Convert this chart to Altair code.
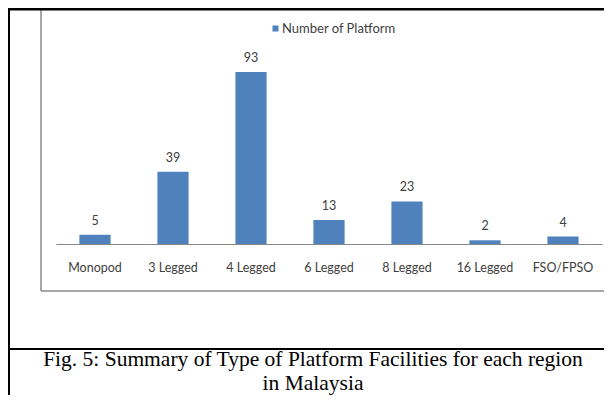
import altair as alt
import pandas as pd

categories = ["Monopod", "3 Legged", "4 Legged", "6 Legged", "8 Legged", "16 Legged", "FSO/FPSO"]
counts = [5, 39, 93, 13, 23, 2, 4]
series_name = "Number of Platform"
caption = "Fig. 5: Summary of Type of Platform Facilities for each region\nin Malaysia"

df = pd.DataFrame({"type": categories, "count": counts, "series": series_name})
dec = pd.DataFrame({"d": [0]})

BAR = "#4F81BD"
TXT = "#404040"
FONT = "Lato"

x_enc = alt.X(
    "type:N",
    sort=categories,
    scale=alt.Scale(paddingInner=0.6, paddingOuter=0.3),
    axis=alt.Axis(
        title=None, labelAngle=0, ticks=False, tickSize=0,
        domainColor="#868686", domainWidth=1,
        labelFont=FONT, labelFontSize=12.5, labelColor=TXT,
        labelPadding=23, labelBaseline="middle",
    ),
)
y_enc = alt.Y("count:Q", scale=alt.Scale(domain=[0, 100]), axis=None)

# frame decorations
gray_left = alt.Chart(dec).mark_rule(color="#8a8a8a", strokeWidth=1.5).encode(
    x=alt.value(-15), y=alt.value(-49), y2=alt.value(232)
)
gray_bottom = alt.Chart(dec).mark_rule(color="#8a8a8a", strokeWidth=1.5).encode(
    x=alt.value(-15), x2=alt.value(548), y=alt.value(232)
)
top_a = alt.Chart(dec).mark_rect(color="black").encode(
    x=alt.value(-47), x2=alt.value(250), y=alt.value(-51), y2=alt.value(-48.5)
)
top_b = alt.Chart(dec).mark_rect(color="black").encode(
    x=alt.value(250), x2=alt.value(548), y=alt.value(-51), y2=alt.value(-48.5)
)
left_line = alt.Chart(dec).mark_rule(color="black", strokeWidth=2).encode(
    x=alt.value(-47), y=alt.value(-51), y2=alt.value(345)
)
mid_line = alt.Chart(dec).mark_rule(color="black", strokeWidth=2).encode(
    x=alt.value(-47), x2=alt.value(560), y=alt.value(290)
)

bars = alt.Chart(df).mark_bar().encode(
    x=x_enc,
    y=y_enc,
    color=alt.Color(
        "series:N",
        scale=alt.Scale(range=[BAR]),
        legend=alt.Legend(
            title=None, orient="none", legendX=213, legendY=-37,
            symbolType="square", symbolSize=36, symbolStrokeWidth=0,
            labelFont=FONT, labelFontSize=13, labelColor=TXT, labelOffset=0,
        ),
    ),
)

labels = alt.Chart(df).mark_text(
    dy=-10, baseline="alphabetic", font=FONT, fontSize=12.5, color=TXT
).encode(x=alt.X("type:N", sort=categories), y="count:Q", text="count:Q")

cap = alt.Chart(dec).mark_text(
    align="center", baseline="alphabetic", font="Liberation Serif", fontSize=21.5,
    lineBreak="\n", lineHeight=24, color="black",
).encode(x=alt.value(257), y=alt.value(307), text=alt.value(caption))

chart = alt.layer(
    gray_left, gray_bottom, top_a, top_b, left_line, mid_line, bars, labels, cap
).properties(
    width=546, height=185,
    padding={"left": 48, "top": 51, "right": 2, "bottom": 151},
    autosize="none",
    background="white",
).configure_view(strokeWidth=0)

chart.save("out.html", embed_options={"renderer": "svg", "actions": False})
